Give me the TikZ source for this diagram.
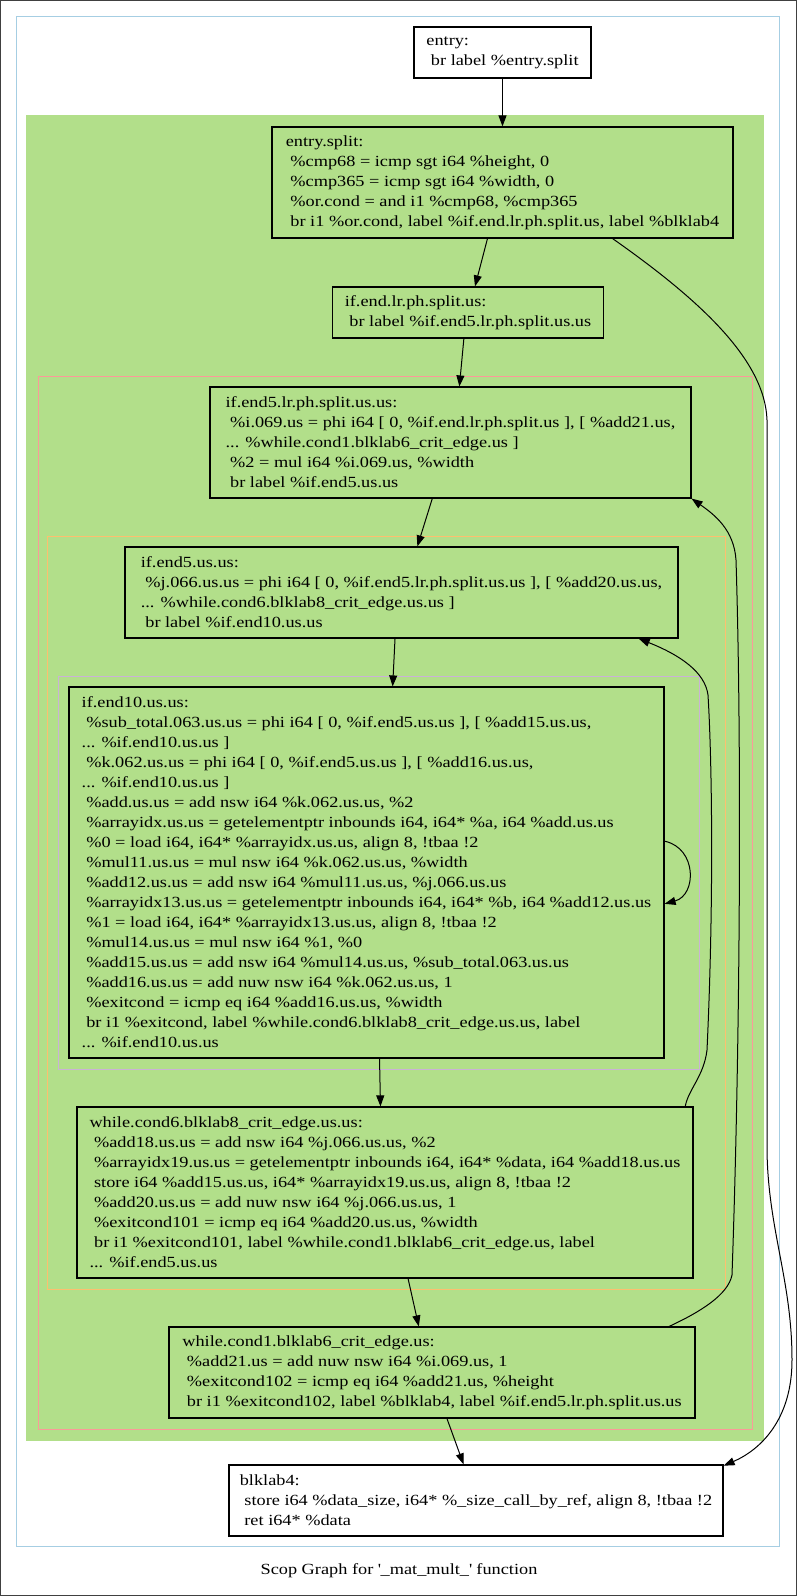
\documentclass[tikz,border=0pt]{standalone}
\usepackage{fontspec}
\setmainfont{Liberation Serif}[FakeStretch=1.18]
\usetikzlibrary{arrows.meta}
\definecolor{bleu}{HTML}{A6CEE3}
\definecolor{vert}{HTML}{B2DF8A}
\definecolor{rose}{HTML}{FB9A99}
\definecolor{orangec}{HTML}{FDBF6F}
\definecolor{mauve}{HTML}{CAB2D6}
\begin{document}
\begin{tikzpicture}[x=1pt,y=-1pt,
  bloc/.style={draw,line width=1.2pt,fill=vert,align=left,inner xsep=6pt,font=\fontsize{15.5}{20}\selectfont},
  bloc blanc/.style={bloc,fill=white},
  cadre/.style={line width=1pt},
  fleche/.style={->,line width=1pt},
  >={Triangle[length=11pt,width=8pt]}]
\useasboundingbox (0,0) rectangle (797,1596);
% cadres
\draw[cadre,black!75] (0.5,0.5) rectangle (796.5,1595.5);
\draw[cadre,bleu] (16,16) rectangle (779,1546);
\draw[cadre,vert,fill=vert] (26,115) rectangle (763,1440);
\draw[cadre,rose] (38,376) rectangle (752,1429);
\draw[cadre,orangec] (47,536) rectangle (725,1289);
\draw[cadre,mauve] (58,676) rectangle (699,1069);
% noeuds
\node[bloc blanc,minimum width=177,minimum height=51] (entry) at (502.5,52.5) {entry:\\
\ br label \%entry.split};
\node[bloc,minimum width=461,minimum height=111] (split) at (502.5,182.5) {entry.split:\\
\ \%cmp68 = icmp sgt i64 \%height, 0\\
\ \%cmp365 = icmp sgt i64 \%width, 0\\
\ \%or.cond = and i1 \%cmp68, \%cmp365\\
\ br i1 \%or.cond, label \%if.end.lr.ph.split.us, label \%blklab4};
\node[bloc,minimum width=271,minimum height=51] (lrph) at (468,312.5) {if.end.lr.ph.split.us:\\
\ br label \%if.end5.lr.ph.split.us.us};
\node[bloc,minimum width=481,minimum height=111] (lrphus) at (450.5,442.5) {if.end5.lr.ph.split.us.us:\\
\ \%i.069.us = phi i64 [ 0, \%if.end.lr.ph.split.us ], [ \%add21.us,\\
... \%while.cond1.blklab6\_crit\_edge.us ]\\
\ \%2 = mul i64 \%i.069.us, \%width\\
\ br label \%if.end5.us.us};
\node[bloc,minimum width=553,minimum height=91] (endcinq) at (401.5,592.5) {if.end5.us.us:\\
\ \%j.066.us.us = phi i64 [ 0, \%if.end5.lr.ph.split.us.us ], [ \%add20.us.us,\\
... \%while.cond6.blklab8\_crit\_edge.us.us ]\\
\ br label \%if.end10.us.us};
\node[bloc,minimum width=595,minimum height=371] (enddix) at (366.5,872.5) {if.end10.us.us:\\
\ \%sub\_total.063.us.us = phi i64 [ 0, \%if.end5.us.us ], [ \%add15.us.us,\\
... \%if.end10.us.us ]\\
\ \%k.062.us.us = phi i64 [ 0, \%if.end5.us.us ], [ \%add16.us.us,\\
... \%if.end10.us.us ]\\
\ \%add.us.us = add nsw i64 \%k.062.us.us, \%2\\
\ \%arrayidx.us.us = getelementptr inbounds i64, i64* \%a, i64 \%add.us.us\\
\ \%0 = load i64, i64* \%arrayidx.us.us, align 8, !tbaa !2\\
\ \%mul11.us.us = mul nsw i64 \%k.062.us.us, \%width\\
\ \%add12.us.us = add nsw i64 \%mul11.us.us, \%j.066.us.us\\
\ \%arrayidx13.us.us = getelementptr inbounds i64, i64* \%b, i64 \%add12.us.us\\
\ \%1 = load i64, i64* \%arrayidx13.us.us, align 8, !tbaa !2\\
\ \%mul14.us.us = mul nsw i64 \%1, \%0\\
\ \%add15.us.us = add nsw i64 \%mul14.us.us, \%sub\_total.063.us.us\\
\ \%add16.us.us = add nuw nsw i64 \%k.062.us.us, 1\\
\ \%exitcond = icmp eq i64 \%add16.us.us, \%width\\
\ br i1 \%exitcond, label \%while.cond6.blklab8\_crit\_edge.us.us, label\\
... \%if.end10.us.us};
\node[bloc,minimum width=616,minimum height=171] (wcsix) at (385,1192.5) {while.cond6.blklab8\_crit\_edge.us.us:\\
\ \%add18.us.us = add nsw i64 \%j.066.us.us, \%2\\
\ \%arrayidx19.us.us = getelementptr inbounds i64, i64* \%data, i64 \%add18.us.us\\
\ store i64 \%add15.us.us, i64* \%arrayidx19.us.us, align 8, !tbaa !2\\
\ \%add20.us.us = add nuw nsw i64 \%j.066.us.us, 1\\
\ \%exitcond101 = icmp eq i64 \%add20.us.us, \%width\\
\ br i1 \%exitcond101, label \%while.cond1.blklab6\_crit\_edge.us, label\\
... \%if.end5.us.us};
\node[bloc,minimum width=526,minimum height=91] (wcun) at (432,1372.5) {while.cond1.blklab6\_crit\_edge.us:\\
\ \%add21.us = add nuw nsw i64 \%i.069.us, 1\\
\ \%exitcond102 = icmp eq i64 \%add21.us, \%height\\
\ br i1 \%exitcond102, label \%blklab4, label \%if.end5.lr.ph.split.us.us};
\node[bloc blanc,minimum width=494,minimum height=71] (blk) at (476,1500.5) {blklab4:\\
\ store i64 \%data\_size, i64* \%\_size\_call\_by\_ref, align 8, !tbaa !2\\
\ ret i64* \%data};
% titre
\node[font=\fontsize{15.5}{20}\selectfont] (titre) at (399,1571) {Scop Graph for \textquotesingle\_mat\_mult\_\textquotesingle{} function};
% fleches
\draw[fleche] (entry.south) -- (split.north);
\draw[fleche] (split.255) -- (lrph.75);
\draw[fleche] (split.-27.3) .. controls (700,300) and (765,360) .. (767,420) -- (767,1150)
  .. controls (768,1230) and (792,1280) .. (792,1360) .. controls (792,1420) and (760,1450) .. (blk.8.7);
\draw[fleche] (lrph.261) -- (lrphus.81);
\draw[fleche] (lrphus.252) -- (endcinq.71);
\draw[fleche] (endcinq.262) -- (enddix.82.5);
\draw[fleche] (enddix.6.6) .. controls (697,848) and (697,895) .. (enddix.-6.2);
\draw[fleche] (enddix.-86.5) -- (wcsix.93.3);
\draw[fleche] (wcsix.16.7) .. controls (688,1090) and (704,1076) .. (707,1050)
  .. controls (714,900) and (712,760) .. (708,695) .. controls (705,672) and (680,655) .. (endcinq.-11.1);
\draw[fleche] (wcsix.-75) -- (wcun.106);
\draw[fleche] (wcun.11.3) .. controls (700,1312) and (728,1295) .. (732,1275)
  .. controls (740,1050) and (742,750) .. (736,560) .. controls (734,530) and (715,515) .. (lrphus.south east);
\draw[fleche] (wcun.-72) -- (blk.109);
\end{tikzpicture}
\end{document}
